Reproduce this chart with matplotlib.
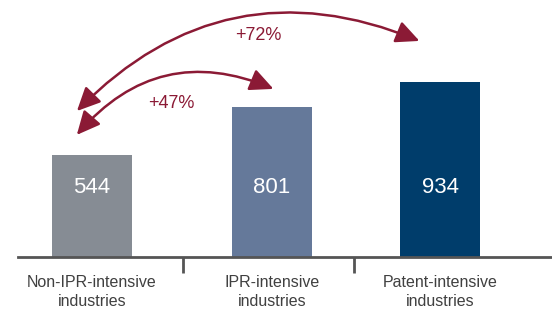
import matplotlib
matplotlib.use("Agg")
import matplotlib.pyplot as plt
from matplotlib.patches import FancyArrowPatch

categories = ["Non-IPR-intensive\nindustries", "IPR-intensive\nindustries", "Patent-intensive\nindustries"]
values = [544, 801, 934]
growth_labels = ["+47%", "+72%"]

colors = ["#868C94", "#65799A", "#003D6B"]
arrow_color = "#8B1A35"
text_color = "#404040"
FONT = ["Liberation Sans Narrow", "Liberation Sans", "DejaVu Sans"]
plt.rcParams['font.family'] = FONT

W, H = 552, 310
fig = plt.figure(figsize=(W / 100, H / 100), dpi=100)
base_py = 257
ax = fig.add_axes([18 / W, (H - base_py) / H, (W - 18) / W, base_py / H])

positions = [0, 1, 1.935]
unit = 180.0
ax.set_xlim(-74 / unit, (W - 18 - 74) / unit)
ax.set_ylim(0, base_py / 0.1875)

ax.bar(positions, values, width=80 / unit, color=colors, zorder=2)
label_y = 373
for p, v in zip(positions, values):
    ax.text(p, label_y, f"{v}", ha="center", va="center", color="white", fontsize=16)

for s in ["top", "right", "left"]:
    ax.spines[s].set_visible(False)
ax.spines["bottom"].set_color("#555555")
ax.spines["bottom"].set_linewidth(2)
ax.set_yticks([])
ax.set_xticks(positions)
ax.set_xticklabels(categories, fontsize=11.5, color=text_color, linespacing=1.35)
ax.tick_params(axis="x", which="major", length=0, pad=13)
ax.set_xticks([0.506, 1.456], minor=True)
ax.tick_params(axis="x", which="minor", length=11.5, width=2, color="#555555", direction="out")


def fp(px, py):
    return (px / W, 1 - py / H)


arrows = [((75, 137), (276, 90), -0.37), ((75, 113), (422, 42), -0.34)]
for (a, b, rad) in arrows:
    arr = FancyArrowPatch(fp(*a), fp(*b), transform=fig.transFigure,
                          connectionstyle=f"arc3,rad={rad}",
                          arrowstyle="<|-|>,head_length=0.95,head_width=0.45",
                          mutation_scale=15, color=arrow_color, lw=1.8)
    fig.add_artist(arr)

for lab, (px, py) in zip(growth_labels, [(171, 103), (258, 35)]):
    fig.text(*fp(px, py), lab, ha="center", va="center", color=arrow_color, fontsize=13)

fig.savefig("out.png", dpi=100)
